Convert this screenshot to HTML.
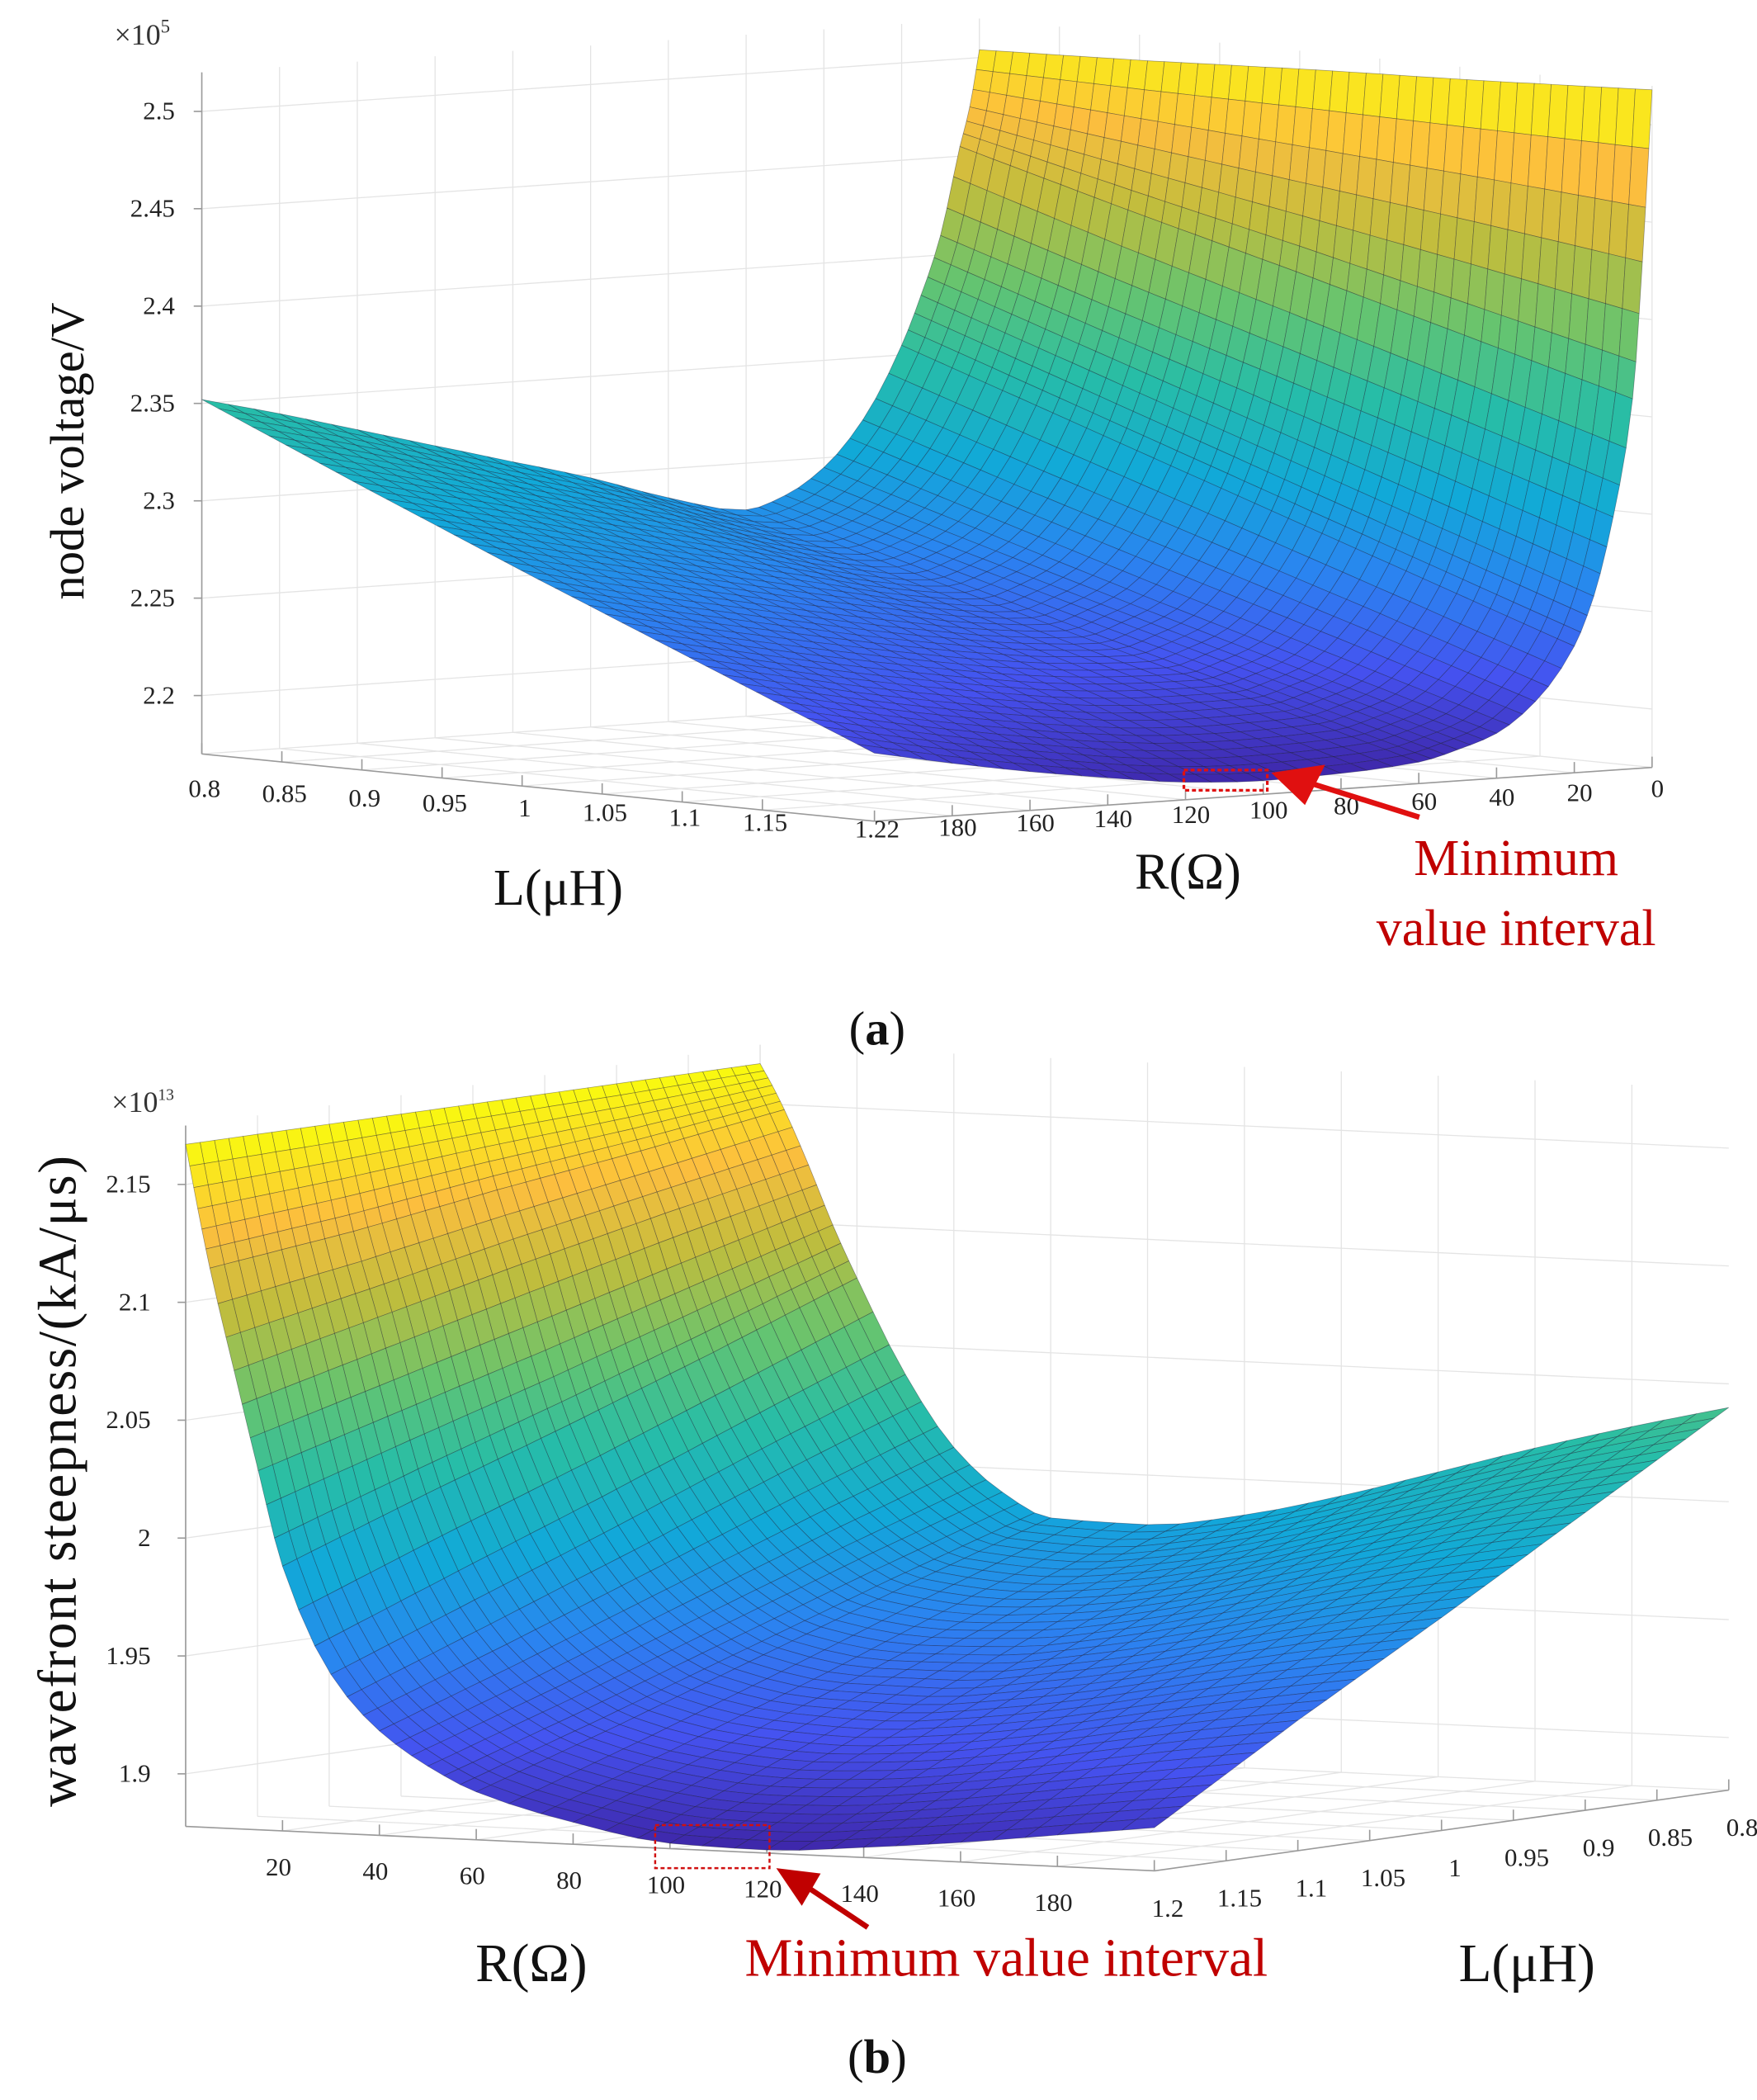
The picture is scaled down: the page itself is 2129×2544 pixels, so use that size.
<!DOCTYPE html>
<html><head><meta charset="utf-8">
<style>
html,body{margin:0;padding:0;background:#fff;}
svg{display:block;}
text{font-family:"Liberation Serif",serif;}
</style></head>
<body>
<svg id="fig" width="2129" height="2544" viewBox="0 0 1306 1560" xmlns="http://www.w3.org/2000/svg">
<g id="chartA"></g>
<g id="chartB"></g>
</svg>
<script>
// ---------- data ----------
const rGrid = [0,2.5,5,10,15,20,30,40,50,60,80,100,120,140,160,180,200];
// chart (a): node voltage (x1e5 V)
const lRowsA = [0.8,0.905,1.01,1.115,1.22];
const zA_L080 = [2.504,2.475,2.455,2.41,2.38,2.355,2.318,2.295,2.282,2.276,2.285,2.298,2.309,2.320,2.331,2.342,2.352];
const zA_L0905 = [2.507,2.464,2.431,2.382,2.35,2.325,2.290,2.269,2.258,2.252,2.258,2.268,2.277,2.286,2.296,2.305,2.314];
const zA_L101 = [2.511,2.453,2.408,2.355,2.32,2.295,2.263,2.243,2.234,2.228,2.231,2.237,2.244,2.252,2.260,2.268,2.277];
const zA_L1115 = [2.514,2.442,2.384,2.328,2.29,2.265,2.236,2.218,2.210,2.205,2.205,2.207,2.212,2.218,2.225,2.233,2.241];
const zA_L122 = [2.518,2.43,2.36,2.30,2.26,2.235,2.208,2.193,2.186,2.181,2.178,2.177,2.179,2.184,2.190,2.197,2.205];
const zTicksA = [2.2,2.25,2.3,2.35,2.4,2.45,2.5];
const zTickLabelsA = ["2.2","2.25","2.3","2.35","2.4","2.45","2.5"];
const lTicksA = [0.8,0.85,0.9,0.95,1,1.05,1.1,1.15,1.22];
const lTickLabelsA = ["0.8","0.85","0.9","0.95","1","1.05","1.1","1.15","1.22"];
const rTicksA = [0,20,40,60,80,100,120,140,160,180];
const rTickLabelsA = ["0","20","40","60","80","100","120","140","160","180"];
// chart (b): wavefront steepness (x1e13)
const lRowsB = [0.8,0.9,1.0,1.1,1.2];
const zB_L08 = [2.167,2.158,2.148,2.125,2.100,2.078,2.038,2.008,1.99,1.980,1.979,1.985,1.995,2.007,2.019,2.030,2.040];
const zB_L09 = [2.167,2.153,2.139,2.113,2.082,2.055,2.015,1.987,1.970,1.960,1.956,1.959,1.966,1.976,1.986,1.996,2.004];
const zB_L10 = [2.167,2.149,2.131,2.100,2.064,2.033,1.991,1.965,1.949,1.939,1.932,1.932,1.937,1.944,1.953,1.961,1.968];
const zB_L11 = [2.167,2.144,2.122,2.086,2.047,2.012,1.968,1.943,1.928,1.918,1.909,1.906,1.908,1.913,1.920,1.927,1.933];
const zB_L12 = [2.167,2.14,2.115,2.072,2.03,1.99,1.945,1.922,1.908,1.898,1.887,1.880,1.879,1.882,1.886,1.891,1.896];
const zTicksB = [1.9,1.95,2,2.05,2.1,2.15];
const zTickLabelsB = ["1.9","1.95","2","2.05","2.1","2.15"];
const rTicksB = [20,40,60,80,100,120,140,160,180];
const rTickLabelsB = ["20","40","60","80","100","120","140","160","180"];
const lTicksB = [0.8,0.85,0.9,0.95,1,1.05,1.1,1.15,1.2];
const lTickLabelsB = ["0.8","0.85","0.9","0.95","1","1.05","1.1","1.15","1.2"];

const NS="http://www.w3.org/2000/svg";
function mk(parent,tag,attrs){const e=document.createElementNS(NS,tag);for(const k in attrs)e.setAttribute(k,attrs[k]);parent.appendChild(e);return e;}

const parula=[[0,[62,38,168]],[0.12,[69,82,240]],[0.25,[42,133,240]],[0.37,[17,169,216]],[0.5,[39,189,167]],[0.62,[102,196,111]],[0.75,[192,189,61]],[0.87,[252,190,62]],[1,[249,251,14]]];
function cmap(t){t=Math.max(0,Math.min(1,t));for(let i=1;i<parula.length;i++){if(t<=parula[i][0]){const a=parula[i-1],b=parula[i];const f=(t-a[0])/(b[0]-a[0]);const c=a[1].map((v,k)=>Math.round(v+(b[1][k]-v)*f));return `rgb(${c[0]},${c[1]},${c[2]})`;}}return 'rgb(249,251,14)';}

function pchipSlopes(x,y){
  const n=x.length,h=[],d=[],m=new Array(n);
  for(let i=0;i<n-1;i++){h.push(x[i+1]-x[i]);d.push((y[i+1]-y[i])/h[i]);}
  m[0]=d[0];m[n-1]=d[n-2];
  for(let i=1;i<n-1;i++){
    if(d[i-1]*d[i]<=0)m[i]=0;
    else{const w1=2*h[i]+h[i-1],w2=h[i]+2*h[i-1];m[i]=(w1+w2)/(w1/d[i-1]+w2/d[i]);}
  }
  return m;
}
function pchipEval(x,y,m,R){
  let j=0;while(j<x.length-2&&R>x[j+1])j++;
  const h=x[j+1]-x[j],t=(R-x[j])/h,t2=t*t,t3=t2*t;
  return (2*t3-3*t2+1)*y[j]+(t3-2*t2+t)*h*m[j]+(-2*t3+3*t2)*y[j+1]+(t3-t2)*h*m[j+1];
}
function interpZ(rows,slopes,lRows,L,R){
  let i=0;while(i<lRows.length-2&&L>lRows[i+1])i++;
  const fl=(L-lRows[i])/(lRows[i+1]-lRows[i]);
  const a=pchipEval(rGrid,rows[i],slopes[i],R);
  const b=pchipEval(rGrid,rows[i+1],slopes[i+1],R);
  return a+(b-a)*fl;
}

function drawChart(g,cfg){
  const P=(L,R,z)=>{const tl=(L-cfg.L0)/(cfg.L1-cfg.L0),tr=R/200;return [cfg.o[0]+tr*cfg.rv[0]+tl*cfg.lv[0], cfg.o[1]+tr*cfg.rv[1]+tl*cfg.lv[1]-(z-cfg.z0)*cfg.k];};
  const grid=mk(g,'g',{stroke:'#e4e4e4','stroke-width':0.8,fill:'none'});
  
  
  const ln=(p,q,par,st)=>mk(par,'line',Object.assign({x1:p[0].toFixed(1),y1:p[1].toFixed(1),x2:q[0].toFixed(1),y2:q[1].toFixed(1)},st||{}));
  cfg.zT.forEach(z=>{ln(P(cfg.L0,0,z),P(cfg.L0,200,z),grid);ln(P(cfg.L0,0,z),P(cfg.L1,0,z),grid);});
  cfg.rT.forEach(r=>{ln(P(cfg.L0,r,cfg.z0),P(cfg.L0,r,cfg.zMax),grid);ln(P(cfg.L0,r,cfg.z0),P(cfg.L1,r,cfg.z0),grid);});
  cfg.lT.forEach(l=>{ln(P(l,0,cfg.z0),P(l,0,cfg.zMax),grid);ln(P(l,0,cfg.z0),P(l,200,cfg.z0),grid);});
  ln(P(cfg.L0,0,cfg.z0),P(cfg.L0,0,cfg.zMax),grid);
  const ax=mk(g,'g',{stroke:'#9a9a9a','stroke-width':1,fill:'none'});
  
  
  ln(P(cfg.zAx[0],cfg.zAx[1],cfg.z0),P(cfg.zAx[0],cfg.zAx[1],cfg.zMax),ax);
  ln(P(cfg.L0,200,cfg.z0),P(cfg.L1,200,cfg.z0),ax);
  ln(P(cfg.L1,0,cfg.z0),P(cfg.L1,200,cfg.z0),ax);
  const surf=mk(g,'g',{'stroke':'rgba(25,25,45,0.42)','stroke-width':0.45,'stroke-linejoin':'round'});
  
  
  const slopes=cfg.rows.map(r=>pchipSlopes(rGrid,r));
  const Rf=[];for(let j=0;j<rGrid.length-1;j++){for(let s=0;s<3;s++)Rf.push(rGrid[j]+(rGrid[j+1]-rGrid[j])*s/3);}Rf.push(200);
  const NL=40,Lf=[];for(let i=0;i<=NL;i++)Lf.push(cfg.L0+(cfg.L1-cfg.L0)*i/NL);
  const Z=Lf.map(L=>Rf.map(R=>interpZ(cfg.rows,slopes,cfg.lRows,L,R)));
  const quads=[];
  for(let i=0;i<NL;i++)for(let j=0;j<Rf.length-1;j++){
    quads.push([i/NL+(Rf[j]+Rf[j+1])/400,i,j]);
  }
  quads.sort((a,b)=>a[0]-b[0]);
  quads.forEach(([k,i,j])=>{
    const zs=[Z[i][j],Z[i+1][j],Z[i+1][j+1],Z[i][j+1]];
    const pts=[P(Lf[i],Rf[j],zs[0]),P(Lf[i+1],Rf[j],zs[1]),P(Lf[i+1],Rf[j+1],zs[2]),P(Lf[i],Rf[j+1],zs[3])];
    const zm=(zs[0]+zs[1]+zs[2]+zs[3])/4;
    const c=cmap((zm-cfg.cmin)/(cfg.cmax-cfg.cmin));
    const p=mk(surf,'polygon',{points:pts.map(q=>q[0].toFixed(1)+','+q[1].toFixed(1)).join(' '),fill:c});
    
    
  });
  const tl=mk(g,'g',{'font-size':19,fill:'#222'});
  
  
  cfg.zT.forEach((z,i)=>{const p=P(cfg.zAx[0],cfg.zAx[1],z);const t=mk(tl,'text',{x:cfg.zLabX,y:(p[1]+6).toFixed(1),'text-anchor':'end'});t.textContent=cfg.zL[i];
    
    
    ln([p[0],p[1]],[p[0]-6,p[1]],ax);});
  cfg.lT.forEach((l,i)=>{const p=P(l,200,cfg.z0);const o=cfg.lOff(l);const t=mk(tl,'text',{x:(p[0]+o[0]).toFixed(1),y:(p[1]+o[1]).toFixed(1),'text-anchor':'middle'});t.textContent=cfg.lL[i];
    
    
    ln(p,[p[0]+cfg.tickL[0],p[1]+cfg.tickL[1]],ax);});
  cfg.rT.forEach((r,i)=>{const p=P(cfg.L1,r,cfg.z0);const o=cfg.rOff(r);const t=mk(tl,'text',{x:(p[0]+o[0]).toFixed(1),y:(p[1]+o[1]).toFixed(1),'text-anchor':'middle'});t.textContent=cfg.rL[i];
    
    
    ln(p,[p[0]+cfg.tickR[0],p[1]+cfg.tickR[1]],ax);});
}

drawChart(document.getElementById('chartA'),{
  o:[728,520],rv:[-578,40],lv:[500,50],L0:0.8,L1:1.22,z0:2.17,k:1447,zMax:2.52,
  rows:[zA_L080,zA_L0905,zA_L101,zA_L1115,zA_L122],lRows:lRowsA,cmin:2.177,cmax:2.518,
  zT:zTicksA,zL:zTickLabelsA,lT:lTicksA,lL:lTickLabelsA,rT:rTicksA,rL:rTickLabelsA,
  zAx:[0.8,200],zLabX:130,
  lOff:l=>[2,32-20*(l-0.8)/0.42],rOff:r=>[4,14+8*(1-r/200)],tickL:[0,-8],tickR:[0,-8]
});
drawChart(document.getElementById('chartB'),{
  o:[565,1297],rv:[720,33],lv:[-427,60],L0:0.8,L1:1.2,z0:1.8777,k:1752,zMax:2.175,
  rows:[zB_L08,zB_L09,zB_L10,zB_L11,zB_L12],lRows:lRowsB,cmin:1.879,cmax:2.167,
  zT:zTicksB,zL:zTickLabelsB,lT:lTicksB,lL:lTickLabelsB,rT:rTicksB,rL:rTickLabelsB,
  zAx:[1.2,0],zLabX:112,
  lOff:l=>[10,34],rOff:r=>[-3,33],tickL:[0,-8],tickR:[0,-8]
});
</script>
<svg style="position:absolute;left:0;top:0" width="2129" height="2544" viewBox="0 0 1306 1560" xmlns="http://www.w3.org/2000/svg">
  <g font-family="Liberation Serif, serif">
    <text x="85" y="33" font-size="22" fill="#333">×10<tspan font-size="14" dy="-9">5</tspan></text>
    <text transform="translate(62,335) rotate(-90)" text-anchor="middle" font-size="36" fill="#111">node voltage/V</text>
    <text x="415" y="672" text-anchor="middle" font-size="38" fill="#111">L(μH)</text>
    <text x="883" y="660" text-anchor="middle" font-size="38" fill="#111">R(Ω)</text>
    <text x="1127" y="650" text-anchor="middle" font-size="38" fill="#c00000">Minimum</text>
    <text x="1127" y="702" text-anchor="middle" font-size="38" fill="#c00000">value interval</text>
    <rect x="880" y="572" width="62" height="15" fill="none" stroke="#e01010" stroke-width="2" stroke-dasharray="3,2"/>
    <line x1="1055" y1="607" x2="975" y2="582" stroke="#e01010" stroke-width="4"/>
    <polygon points="945,574 985,568 970,598" fill="#e01010"/>
    <text x="652" y="776" text-anchor="middle" font-size="36" fill="#111">(<tspan font-weight="bold">a</tspan>)</text>

    <text x="83" y="826" font-size="22" fill="#333">×10<tspan font-size="12" dy="-9">13</tspan></text>
    <text transform="translate(56,1100) rotate(-90)" text-anchor="middle" font-size="40" fill="#111" letter-spacing="1">wavefront steepness/(kA/μs)</text>
    <text x="395" y="1472" text-anchor="middle" font-size="40" fill="#111">R(Ω)</text>
    <text x="748" y="1468" text-anchor="middle" font-size="40" fill="#c00000">Minimum value interval</text>
    <text x="1135" y="1472" text-anchor="middle" font-size="40" fill="#111">L(μH)</text>
    <rect x="487" y="1356" width="85" height="32" fill="none" stroke="#d01010" stroke-width="1.5" stroke-dasharray="3,2"/>
    <line x1="645" y1="1432" x2="600" y2="1402" stroke="#c00000" stroke-width="4"/>
    <polygon points="577,1388 610,1392 596,1416" fill="#c00000"/>
    <text x="652" y="1540" text-anchor="middle" font-size="36" fill="#111">(<tspan font-weight="bold">b</tspan>)</text>
  </g>
</svg>
</body></html>
